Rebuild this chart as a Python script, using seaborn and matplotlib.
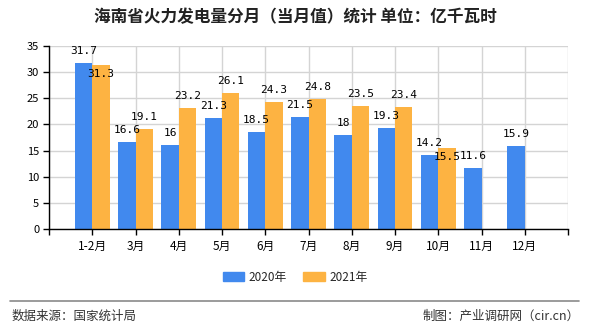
import numpy as np
import pandas as pd
import matplotlib
matplotlib.use("Agg")
import matplotlib.pyplot as plt
from matplotlib.lines import Line2D
import seaborn as sns

months = ["1-2月", "3月", "4月", "5月", "6月", "7月", "8月", "9月", "10月", "11月", "12月"]
years = ["2020年", "2021年"]
values_2020 = [31.7, 16.6, 16, 21.3, 18.5, 21.5, 18, 19.3, 14.2, 11.6, 15.9]
values_2021 = [31.3, 19.1, 23.2, 26.1, 24.3, 24.8, 23.5, 23.4, 15.5, np.nan, np.nan]
y_ticks = [0, 5, 10, 15, 20, 25, 30, 35]

title = "海南省火力发电量分月（当月值）统计 单位：亿千瓦时"
source_text = "数据来源：国家统计局"
credit_text = "制图：产业调研网（cir.cn）"

colors = ["#4189EE", "#FDB342"]

sns.set_theme(style="white")
plt.rcParams["font.family"] = ["Noto Sans CJK SC", "DejaVu Sans"]

df = pd.DataFrame({
    "month": months * 2,
    "year": [years[0]] * len(months) + [years[1]] * len(months),
    "value": values_2020 + values_2021,
})

fig = plt.figure(figsize=(5.9, 3.3), dpi=100)
ax = fig.add_axes([49 / 590, 1 - 229 / 330, (568 - 49) / 590, (229 - 46) / 330])

sns.barplot(data=df, x="month", y="value", hue="year", order=months,
            hue_order=years, palette=colors, width=0.8, saturation=1,
            linewidth=0, edgecolor="none", ax=ax, legend=False)

n = len(months)
ax.set_xlim(-1, n)
ax.set_ylim(0, 35)
ax.set_xticks(range(-1, n + 1))
ax.set_xticklabels([""] + months + [""])
ax.set_yticks(y_ticks)
ax.set_yticklabels([str(t) for t in y_ticks])
ax.set_xlabel("")
ax.set_ylabel("")

ax.grid(True, color="#d4d4d4", linewidth=1)
ax.set_axisbelow(True)
for side in ["top", "right"]:
    ax.spines[side].set_visible(False)
for side in ["left", "bottom"]:
    ax.spines[side].set_color("#000000")
    ax.spines[side].set_linewidth(1)
ax.tick_params(axis="both", which="both", length=4, width=1, color="#000000",
               labelsize=8, labelcolor="#000000", pad=3)
ax.tick_params(axis="x", labelsize=8.5, pad=4)
ax.tick_params(left=True, bottom=True)

# value labels above each bar; a label that would collide with its partner is put inside the bar top
def fmt(v):
    return f"{v:g}"

for i in range(n):
    a, b = values_2020[i], values_2021[i]
    ax.annotate(fmt(a), (i - 0.2, a), xytext=(0, 12), textcoords="offset pixels",
                ha="center", va="center", fontsize=8, family="DejaVu Sans Mono",
                color="#000000")
    if not np.isnan(b):
        dy = -9 if abs(a - b) < 2 else 12
        ax.annotate(fmt(b), (i + 0.2, b), xytext=(0, dy), textcoords="offset pixels",
                    ha="center", va="center", fontsize=8, family="DejaVu Sans Mono",
                    color="#000000")

fig.text(0.5, 1 - 17 / 330, title, ha="center", va="center", fontsize=12,
         weight="bold", color="#222222")

handles = [plt.Rectangle((0, 0), 1, 1, color=c) for c in colors]
fig.legend(handles, years, loc="center", bbox_to_anchor=(0.5, 1 - 277 / 330),
           ncol=2, frameon=False, fontsize=8.5, handlelength=1.8, handleheight=0.9,
           handletextpad=0.4, columnspacing=1.4)

fig.add_artist(Line2D([10 / 590, 579 / 590], [1 - 301 / 330] * 2,
                      color="#8a8a8a", linewidth=1.2))
fig.text(12 / 590, 1 - 316 / 330, source_text, ha="left", va="center",
         fontsize=9, color="#333333")
fig.text(580 / 590, 1 - 316 / 330, credit_text, ha="right", va="center",
         fontsize=9, color="#333333")

fig.savefig("out.png", dpi=100, facecolor="white")
